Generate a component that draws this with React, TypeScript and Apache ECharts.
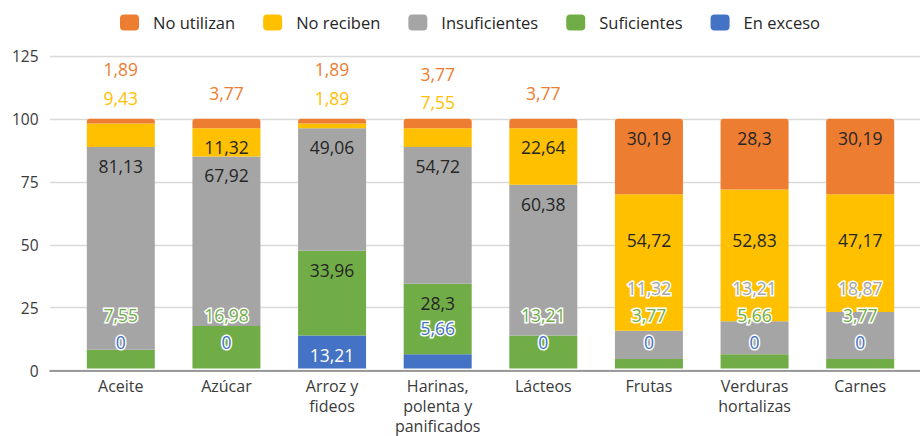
import React, { useEffect, useRef } from "react";
import * as echarts from "echarts";

// ---- data ----
const categories = [
  "Aceite",
  "Azúcar",
  "Arroz y\nfideos",
  "Harinas,\npolenta y\npanificados",
  "Lácteos",
  "Frutas",
  "Verduras\nhortalizas",
  "Carnes",
];
const seriesNames = ["No utilizan", "No reciben", "Insuficientes", "Suficientes", "En exceso"];
const enExceso = [0, 0, 13.21, 5.66, 0, 0, 0, 0];
const suficientes = [7.55, 16.98, 33.96, 28.3, 13.21, 3.77, 5.66, 3.77];
const insuficientes = [81.13, 67.92, 49.06, 54.72, 60.38, 11.32, 13.21, 18.87];
const noReciben = [9.43, 11.32, 1.89, 7.55, 22.64, 54.72, 52.83, 47.17];
const noUtilizan = [1.89, 3.77, 1.89, 3.77, 3.77, 30.19, 28.3, 30.19];
const yMin = 0;
const yMax = 125;
const yInterval = 25;

// ---- layout / style ----
const W = 920;
const H = 436;
const GRID_TOP = 56.3;
const GRID_BOTTOM = 65.5;
const PLOT_H = H - GRID_TOP - GRID_BOTTOM;
const PPU = PLOT_H / (yMax - yMin);
const FONT = "'Open Sans', sans-serif";
const COLORS = ["#4472C4", "#70AD47", "#A5A5A5", "#FFC000", "#ED7D31"]; // stack order bottom->top
const INSIDE_GAP = 19; // px below segment top for in-bar labels
// label anchor level (value units) per stack layer; null = inside end of the segment
const LABEL_LEVEL: (number | null)[][] = [
  [10.4, 10.4, null, 16.1, 10.4, 10.4, 10.4, 10.4], // En exceso
  [21.4, 21.4, null, null, 21.4, 21.4, 21.4, 21.4], // Suficientes
  [null, null, null, null, null, 32.3, 32.3, 32.3], // Insuficientes
  [108.3, null, 108.3, 106.8, null, 51.5, 51.5, 51.5], // No reciben
  [119.6, 110.2, 119.6, 117.7, 110.2, null, null, null], // No utilizan
];

const stack = [enExceso, suficientes, insuficientes, noReciben, noUtilizan];
const stackNames = ["En exceso", "Suficientes", "Insuficientes", "No reciben", "No utilizan"];

const fmt = (v: number) => String(v).replace(".", ",");

function buildSeries() {
  return stack.map((vals, k) => ({
    name: stackNames[k],
    type: "bar",
    stack: "total",
    xAxisIndex: 1,
    yAxisIndex: 1,
    barWidth: 68,
    itemStyle: {
      color: COLORS[k],
      borderRadius: k === stack.length - 1 ? [3, 3, 0, 0] : 0,
    },
    emphasis: { disabled: true },
    data: vals.map((v, i) => {
      let base = 0;
      for (let j = 0; j < k; j++) base += stack[j][i];
      const top = base + v;
      const level = LABEL_LEVEL[k][i];
      const dy = level == null ? INSIDE_GAP : (top - level) * PPU;
      const inside = level == null || (level >= base && level <= top);
      return {
        value: v,
        label: {
          show: true,
          position: "insideTop",
          distance: 0,
          align: "center",
          verticalAlign: "middle",
          offset: [0, dy],
          fontFamily: FONT,
          fontSize: 17.5,
          color: inside ? (k === 0 ? "#ffffff" : "#262626") : COLORS[k],
          textBorderColor: inside ? "transparent" : "#ffffff",
          textBorderWidth: inside ? 0 : 3,
          formatter: () => fmt(v),
        },
      };
    }),
  }));
}

export default function App() {
  const ref = useRef<HTMLDivElement>(null);
  useEffect(() => {
    document.body.style.margin = "0";
    if (!ref.current) return;
    const chart = echarts.init(ref.current, null, { renderer: "svg" });
    chart.setOption({
      animation: false,
      backgroundColor: "#ffffff",
      legend: {
        data: seriesNames,
        top: 9,
        left: 115,
        itemWidth: 19,
        itemHeight: 16,
        itemGap: 28,
        icon: "roundRect",
        selectedMode: false,
        textStyle: {
          fontFamily: FONT,
          fontSize: 16.5,
          color: "#262626",
          padding: [0, 0, 0, 9],
        },
      },
      grid: [
        { left: 50, right: 0, top: GRID_TOP, bottom: GRID_BOTTOM },
        { left: 68, right: 7, top: GRID_TOP, bottom: GRID_BOTTOM },
      ],
      xAxis: [
        {
          type: "category",
          gridIndex: 0,
          data: [""],
          axisLine: { show: true, lineStyle: { color: "#808080", width: 1.6 } },
          axisTick: { show: false },
          axisLabel: { show: false },
        },
        {
          type: "category",
          gridIndex: 1,
          data: categories,
          axisLine: { show: false },
          axisTick: { show: false },
          axisLabel: {
            interval: 0,
            margin: 7.5,
            fontFamily: FONT,
            fontSize: 16,
            lineHeight: 20,
            color: "#3a3a3a",
          },
        },
      ],
      yAxis: [
        {
          type: "value",
          gridIndex: 0,
          min: yMin,
          max: yMax,
          interval: yInterval,
          axisLine: { show: false },
          axisTick: { show: false },
          splitLine: { lineStyle: { color: "#D9D9D9", width: 1.4 } },
          axisLabel: {
            margin: 11.5,
            fontFamily: FONT,
            fontSize: 15.5,
            color: "#3a3a3a",
          },
        },
        {
          type: "value",
          gridIndex: 1,
          min: yMin,
          max: yMax,
          interval: yInterval,
          show: false,
        },
      ],
      series: buildSeries(),
    });
    return () => chart.dispose();
  }, []);
  return <div ref={ref} style={{ width: W, height: H }} />;
}
